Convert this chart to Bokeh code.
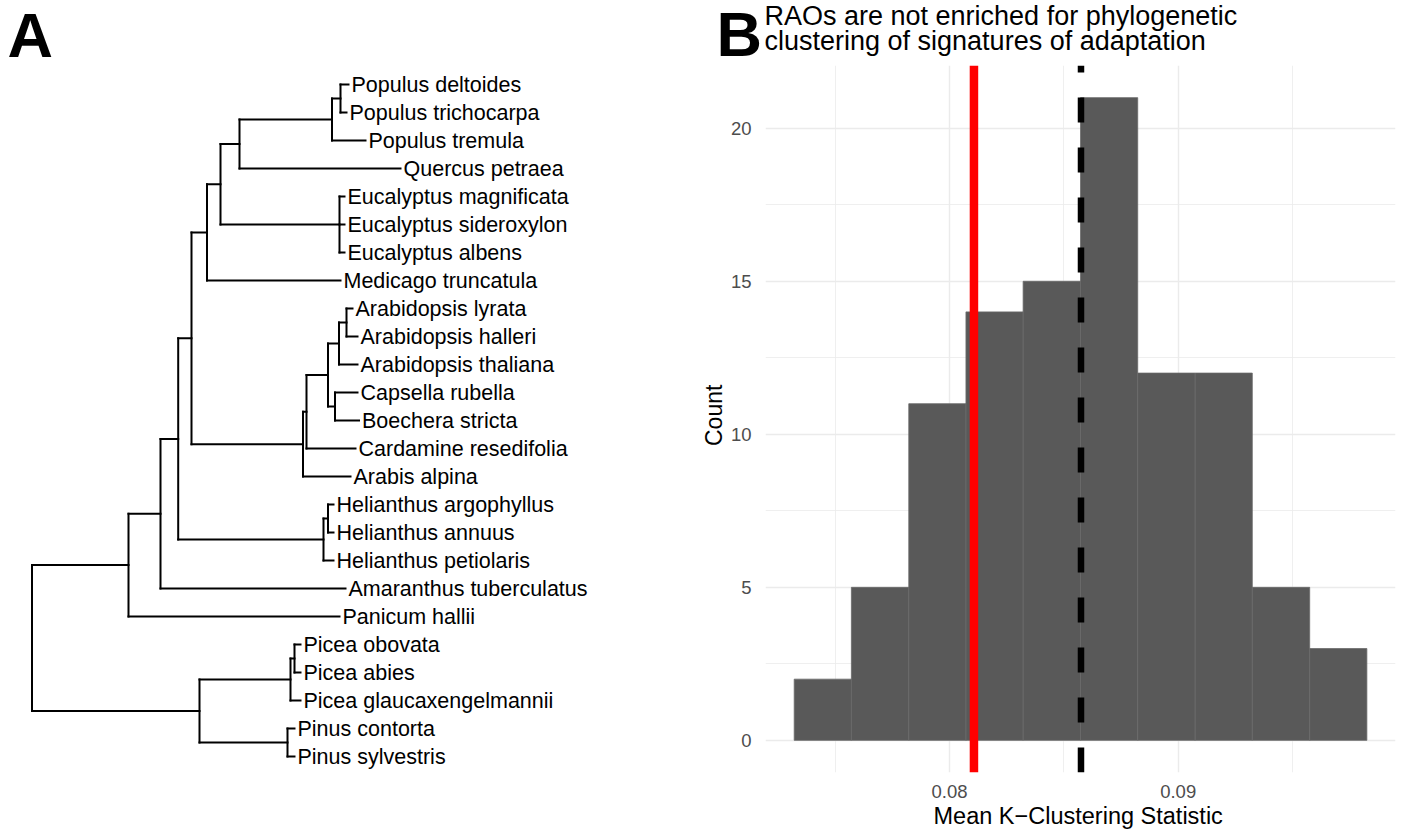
import math
from bokeh.plotting import figure
from bokeh.models import Range1d, Label, Span, FixedTicker
from bokeh.layouts import row
from bokeh.core.properties import value
from bokeh.embed import file_html
from bokeh.resources import INLINE

# ---------------- Panel A: phylogeny (pre-order: node, parent, branch length)
node_names = [
    "root", "n_angio", "n_a2", "n_a3", "n_ros", "n_r1", "n_r2", "n_r3", "n_pop", "n_popdt",
    "Populus deltoides", "Populus trichocarpa", "Populus tremula", "Quercus petraea",
    "n_euc", "Eucalyptus magnificata", "Eucalyptus sideroxylon", "Eucalyptus albens",
    "Medicago truncatula", "n_bras", "n_b1", "n_b2", "n_arab", "n_lh",
    "Arabidopsis lyrata", "Arabidopsis halleri", "Arabidopsis thaliana",
    "n_capboe", "Capsella rubella", "Boechera stricta", "Cardamine resedifolia", "Arabis alpina",
    "n_hel", "n_helaa", "Helianthus argophyllus", "Helianthus annuus", "Helianthus petiolaris",
    "Amaranthus tuberculatus", "Panicum hallii",
    "n_gym", "n_picea", "n_piceaoa", "Picea obovata", "Picea abies", "Picea glaucaxengelmannii",
    "n_pinus", "Pinus contorta", "Pinus sylvestris",
]
node_parents = [
    None, "root", "n_angio", "n_a2", "n_a3", "n_ros", "n_r1", "n_r2", "n_r3", "n_pop",
    "n_popdt", "n_popdt", "n_pop", "n_r3",
    "n_r2", "n_euc", "n_euc", "n_euc",
    "n_r1", "n_ros", "n_bras", "n_b1", "n_b2", "n_arab",
    "n_lh", "n_lh", "n_arab",
    "n_b2", "n_capboe", "n_capboe", "n_b1", "n_bras",
    "n_a3", "n_hel", "n_helaa", "n_helaa", "n_hel",
    "n_a2", "n_angio",
    "root", "n_gym", "n_picea", "n_piceaoa", "n_piceaoa", "n_picea",
    "n_gym", "n_pinus", "n_pinus",
]
branch_lengths = [
    0.0, 0.0965, 0.032, 0.0177, 0.0133, 0.0155, 0.0135, 0.019, 0.0925, 0.0085,
    0.008, 0.006, 0.0335, 0.161,
    0.119, 0.005, 0.005, 0.005,
    0.1335, 0.1115, 0.0035, 0.0215, 0.011, 0.0075,
    0.006, 0.011, 0.0185,
    0.007, 0.0225, 0.024, 0.049, 0.0475,
    0.1453, 0.0045, 0.0055, 0.0055, 0.010,
    0.185, 0.211,
    0.1675, 0.091, 0.004, 0.006, 0.006, 0.010,
    0.088, 0.007, 0.007,
]

# ---------------- Panel B: histogram of mean K-clustering statistic
bin_left = [0.07321, 0.07571, 0.07822, 0.08072, 0.08322, 0.08573, 0.08823, 0.09074, 0.09324, 0.09575]
bin_right = [0.07571, 0.07822, 0.08072, 0.08322, 0.08573, 0.08823, 0.09074, 0.09324, 0.09575, 0.09825]
counts = [2, 5, 11, 14, 15, 21, 12, 12, 5, 3]
observed_k = 0.08107
null_mean_k = 0.08575
x_ticks = [0.08, 0.09]
x_minor_ticks = [0.075, 0.085, 0.095]
y_ticks = [0, 5, 10, 15, 20]
y_minor_ticks = [2.5, 7.5, 12.5, 17.5]
title_lines = ["RAOs are not enriched for phylogenetic", "clustering of signatures of adaptation"]
x_title = "Mean K\u2212Clustering Statistic"
y_title = "Count"
panel_tags = ["A", "B"]

FONT = "Liberation Sans"
W, H = 1401, 832

# ---- tree layout
children = {n: [] for n in node_names}
depth = {}
for n, par, bl in zip(node_names, node_parents, branch_lengths):
    if par is None:
        depth[n] = 0.0
    else:
        children[par].append(n)
        depth[n] = depth[par] + bl

leaf_order = []
def collect(n):
    if not children[n]:
        leaf_order.append(n)
    for c in children[n]:
        collect(c)
collect("root")

ypos = {}
def place(n):
    if not children[n]:
        ypos[n] = float(leaf_order.index(n))
    else:
        ys = [place(c) for c in children[n]]
        ypos[n] = (min(ys) + max(ys)) / 2.0
    return ypos[n]
place("root")

hx0, hx1, hy = [], [], []
for n, par in zip(node_names, node_parents):
    if par is not None:
        hx0.append(depth[par]); hx1.append(depth[n]); hy.append(ypos[n])
vx, vy0, vy1 = [], [], []
for n in node_names:
    if children[n]:
        ys = [ypos[c] for c in children[n]]
        vx.append(depth[n]); vy0.append(min(ys)); vy1.append(max(ys))

def mid_from_baseline(baseline_px, font_px):
    # vertical centre of the text box for a given baseline (Liberation Sans metrics)
    return H - (baseline_px - 0.3465 * font_px)

# background figure: whole page (tree + panel tags + histogram titles)
pa = figure(width=W, height=H, x_range=Range1d(-0.0315, (W - 31.5) / 1000.0),
            y_range=Range1d((H - 84) / 28.0, -3.0), x_axis_location=None, y_axis_location=None,
            toolbar_location=None, output_backend="svg", min_border=0,
            outline_line_color=None, background_fill_color="white", frame_align=False)
pa.grid.grid_line_color = None
pa.segment(x0=hx0, y0=hy, x1=hx1, y1=hy, line_color="black", line_width=2, line_cap="square")
pa.segment(x0=vx, y0=vy0, x1=vx, y1=vy1, line_color="black", line_width=2, line_cap="square")
pa.text(x=[depth[t] for t in leaf_order], y=[ypos[t] for t in leaf_order], text=leaf_order,
        x_offset=3, text_baseline="middle", text_align="left",
        text_font=value(FONT), text_font_size="21.5px", text_color="black")
for tag, tx, base in zip(panel_tags, [7, 716], [56, 55]):
    pa.add_layout(Label(x=tx, y=mid_from_baseline(base, 63), x_units="screen", y_units="screen",
                        text=tag, text_font=FONT, text_font_style="bold", text_font_size="63px",
                        text_color="black", text_baseline="middle"))
for line, base in zip(title_lines, [24.5, 50.0]):
    pa.add_layout(Label(x=764, y=mid_from_baseline(base, 27), x_units="screen", y_units="screen",
                        text=line, text_font=FONT, text_font_size="27px", text_color="black",
                        text_baseline="middle"))
# axis titles of panel B
pa.add_layout(Label(x=1077.7, y=mid_from_baseline(823.3, 23.5), x_units="screen", y_units="screen",
                    text=x_title, text_align="center", text_baseline="middle",
                    text_font=FONT, text_font_size="23.5px", text_color="black"))
pa.add_layout(Label(x=713.7, y=H - 414.8, x_units="screen", y_units="screen", text=y_title,
                    angle=math.pi / 2, text_align="center", text_baseline="middle",
                    text_font=FONT, text_font_size="23px", text_color="black"))

# ---- histogram (overlaid on the right half of the page)
pb = figure(width=701, height=H, x_range=Range1d(0.071955, 0.099502), y_range=Range1d(-1.05, 22.05),
            toolbar_location=None, output_backend="svg",
            min_border_left=65, min_border_right=6, min_border_top=65, min_border_bottom=60,
            outline_line_color=None, background_fill_color="white", border_fill_color=None,
            frame_align=False, margin=(0, 0, 0, -701))
pb.quad(left=bin_left, right=bin_right, bottom=[0] * len(counts), top=counts,
        fill_color="#595959", line_color="#6a6a6a", line_width=0.8)
pb.add_layout(Span(location=observed_k, dimension="height", line_color="#FF0000", line_width=8.5))
pb.add_layout(Span(location=null_mean_k, dimension="height", line_color="black", line_width=6.5,
                   line_dash="25 25", line_dash_offset=18))

pb.xaxis.ticker = FixedTicker(ticks=x_ticks, minor_ticks=x_minor_ticks)
pb.yaxis.ticker = FixedTicker(ticks=y_ticks, minor_ticks=y_minor_ticks)
for ax in (pb.xaxis, pb.yaxis):
    ax.axis_line_color = None
    ax.major_tick_line_color = None
    ax.minor_tick_line_color = None
    ax.major_tick_out = 0
    ax.major_tick_in = 0
    ax.major_label_text_font = FONT
    ax.major_label_text_font_size = "18.5px"
    ax.major_label_text_color = "#4D4D4D"
pb.xaxis.major_label_standoff = 8
pb.yaxis.major_label_standoff = 10
for g in (pb.xgrid, pb.ygrid):
    g.grid_line_color = "#EBEBEB"
    g.grid_line_width = 1.4
    g.minor_grid_line_color = "#EBEBEB"
    g.minor_grid_line_width = 0.8

layout = row(pa, pb)
open("out.html", "w").write(file_html(layout, INLINE))
